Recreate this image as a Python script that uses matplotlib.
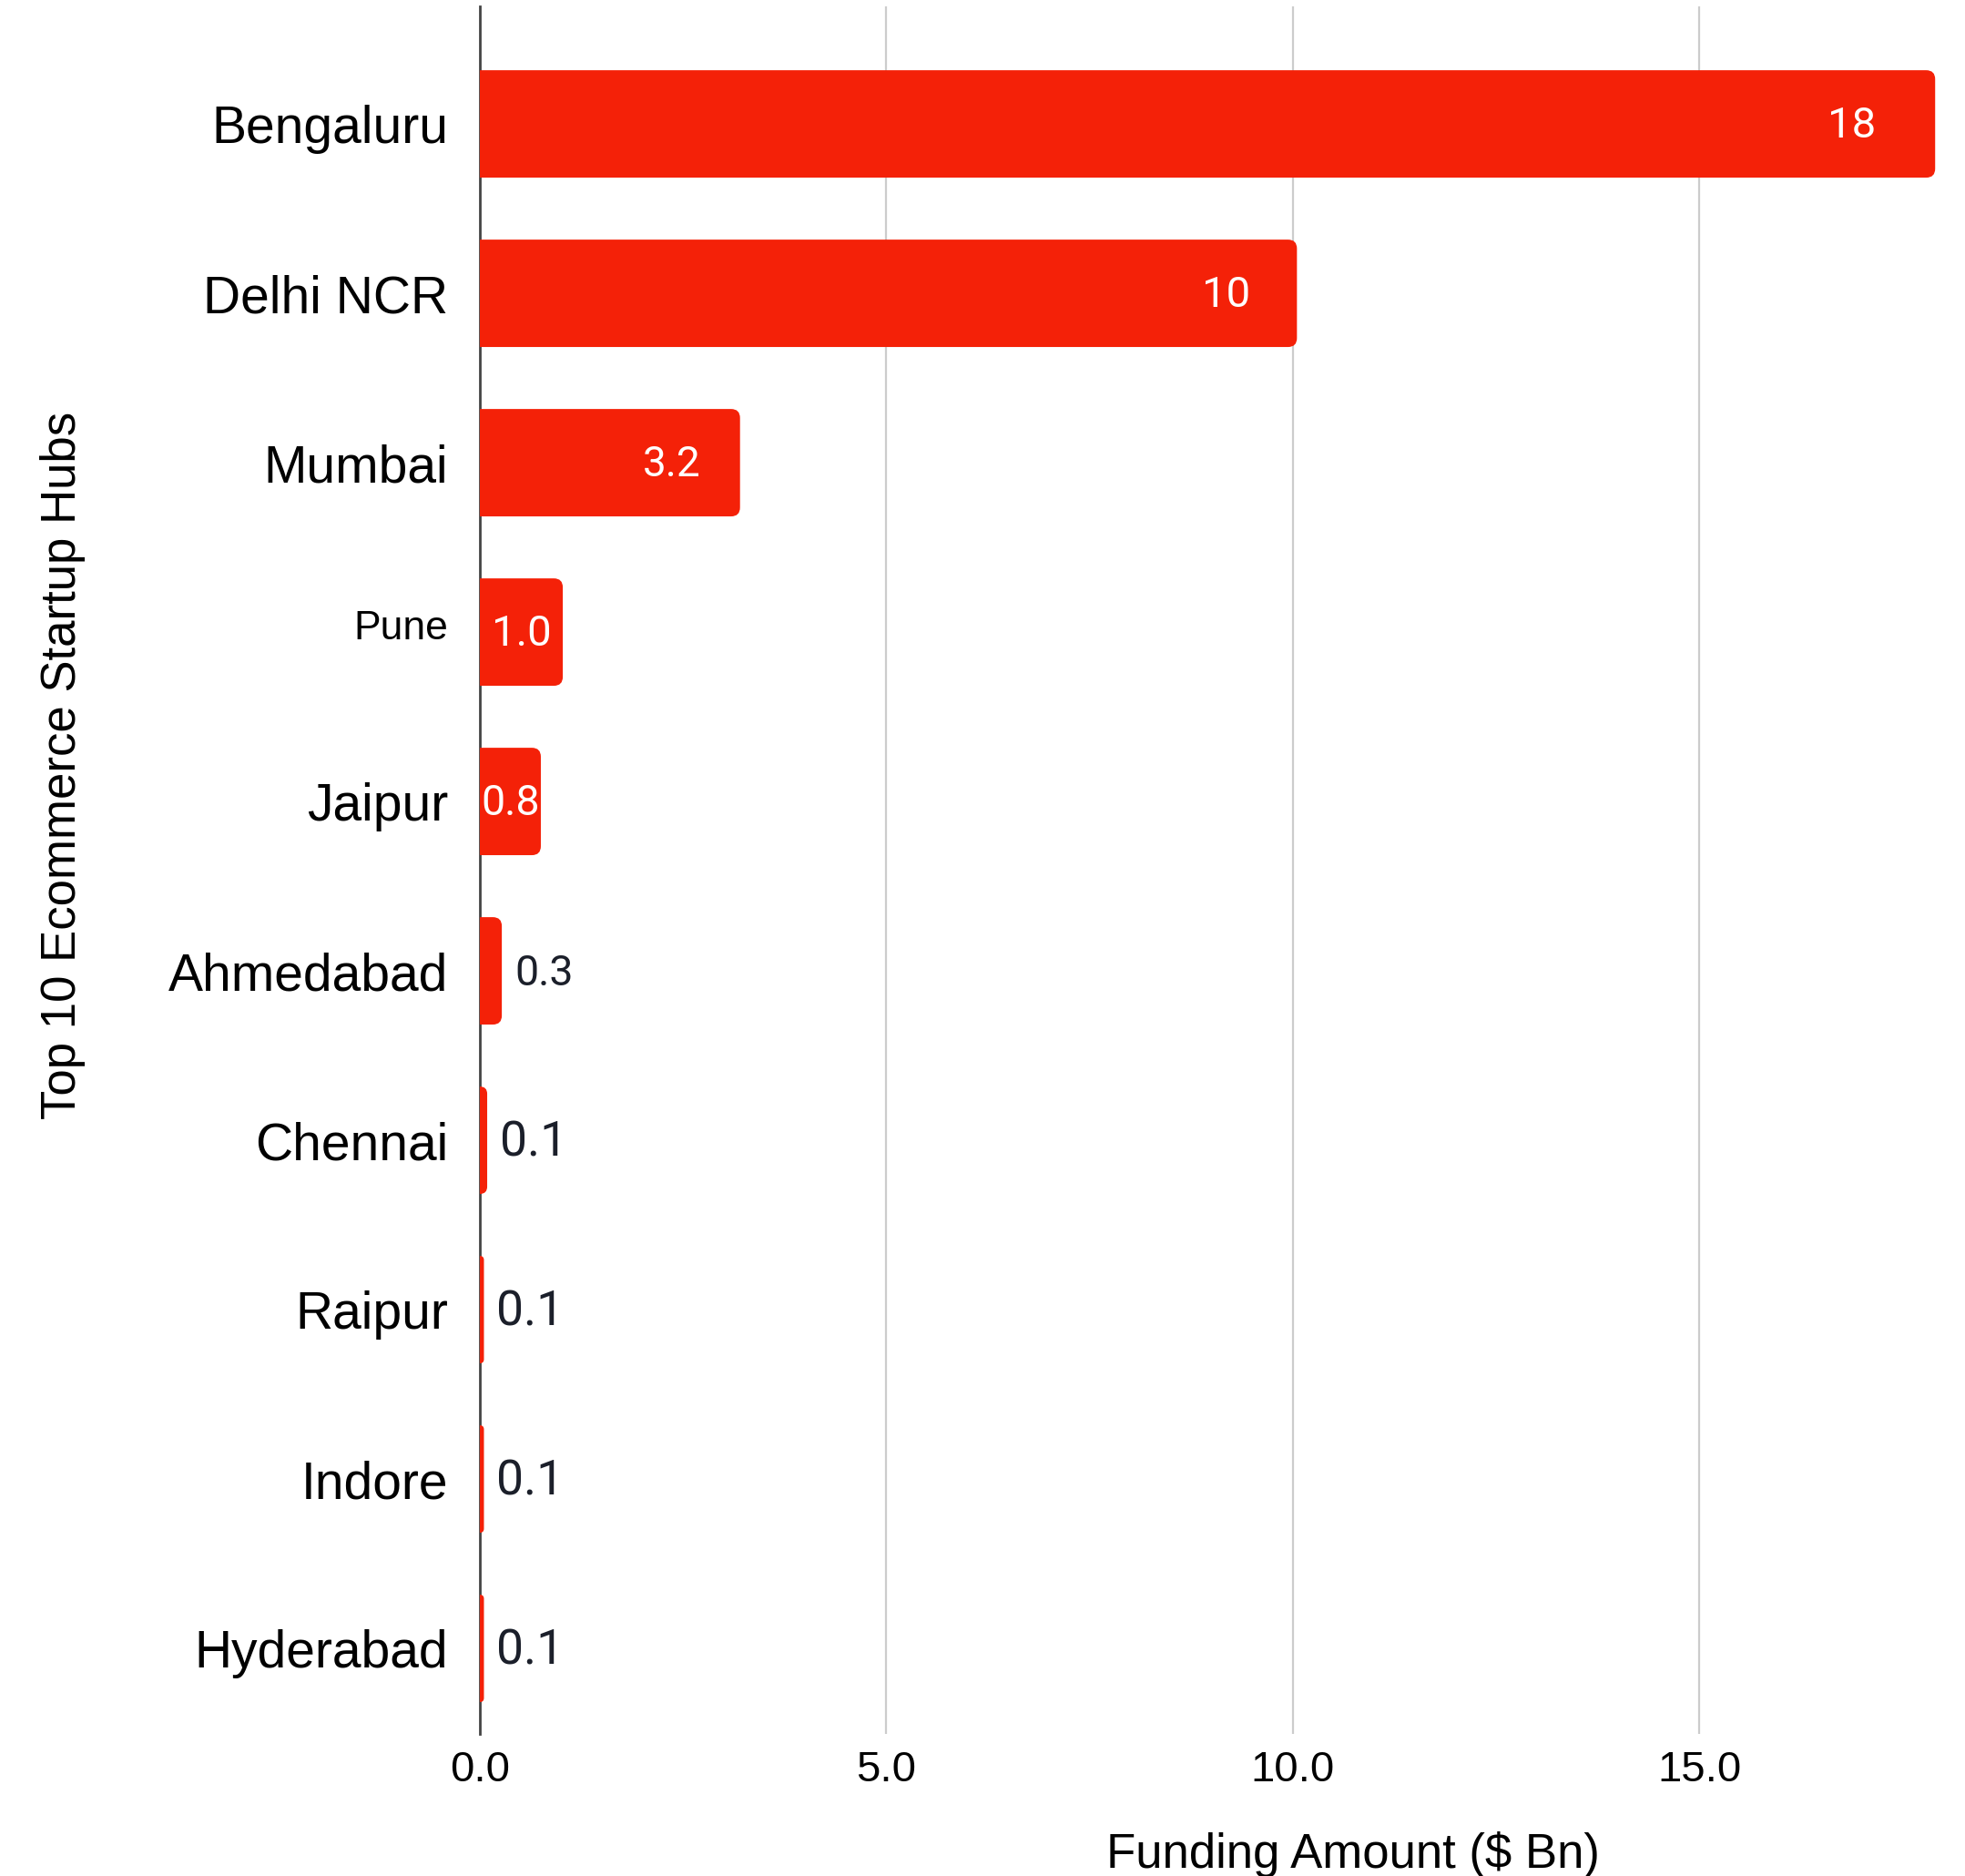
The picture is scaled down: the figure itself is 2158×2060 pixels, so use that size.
import matplotlib
matplotlib.use("Agg")
import matplotlib.pyplot as plt
from matplotlib.patches import FancyBboxPatch
from matplotlib.transforms import offset_copy, ScaledTranslation

# ---- data ----
cities = ["Bengaluru", "Delhi NCR", "Mumbai", "Pune", "Jaipur",
          "Ahmedabad", "Chennai", "Raipur", "Indore", "Hyderabad"]
funding = [17.9, 10.05, 3.2, 1.02, 0.75, 0.27, 0.09, 0.05, 0.05, 0.05]
value_labels = ["18", "10", "3.2", "1.0", "0.8", "0.3", "0.1", "0.1", "0.1", "0.1"]
x_ticks = [0.0, 5.0, 10.0, 15.0]
x_tick_labels = ["0.0", "5.0", "10.0", "15.0"]

# ---- style (label placement per bar) ----
label_mode = ["end", "end", "end", "center", "center",
              "outside", "outside", "outside", "outside", "outside"]
label_size = [34, 34, 33, 34, 33.5, 33.5, 38.5, 38.5, 38.5, 38.5]
end_pad_pts = [47, 37, 31, 0, 0, 0, 0, 0, 0, 0]

BAR_COLOR = "#F42108"
LABEL_FONT = "Liberation Sans"
VALUE_FONT = "Roboto"

W, H = 2158, 2060
fig = plt.figure(figsize=(W / 100, H / 100), dpi=100)
fig.patch.set_facecolor("white")

left_px, right_px, top_px, bottom_px = 527, 2152, 7, 1904
ax = fig.add_axes([left_px / W, 1 - bottom_px / H,
                   (right_px - left_px) / W, (bottom_px - top_px) / H])

ypos = list(range(len(cities)))
bar_h = 0.634
bars = ax.barh(ypos, funding, height=bar_h, color=BAR_COLOR, zorder=3)

ax.set_xlim(0, 18.2)
ax.set_ylim(9.505, -0.694)

# rounded right ends (replace rectangles by rounded patches, same data coords)
R = 0.11
aspect = 0.48
for rect in bars:
    x, y = rect.get_x(), rect.get_y()
    w, h = rect.get_width(), rect.get_height()
    r = min(R, w)
    p = FancyBboxPatch((x - r, y), w + r, h,
                       boxstyle=f"round,pad=0,rounding_size={r}",
                       mutation_aspect=aspect,
                       facecolor=BAR_COLOR, edgecolor="none", zorder=3,
                       clip_on=True)
    ax.add_patch(p)
    rect.set_visible(False)

# grid & spines
ax.set_xticks(x_ticks)
ax.set_xticklabels(x_tick_labels)
ax.xaxis.grid(True, color="#cccccc", linewidth=1.6, zorder=0)
ax.set_axisbelow(True)
for s in ["top", "right", "bottom"]:
    ax.spines[s].set_visible(False)
ax.spines["left"].set_color("#444444")
ax.spines["left"].set_linewidth(2.0)
ax.spines["left"].set_zorder(2)

ax.set_yticks(ypos)
ax.set_yticklabels(cities)
ax.tick_params(axis="y", length=0, pad=25, labelsize=41, labelcolor="#000000")
ax.tick_params(axis="x", length=0, pad=13, labelsize=34, labelcolor="#000000")
for t in ax.get_yticklabels():
    t.set_fontfamily(LABEL_FONT)
    if t.get_text() == "Pune":
        t.set_fontsize(32)
        t.set_transform(t.get_transform() + ScaledTranslation(0, 6 / 72, fig.dpi_scale_trans))
for t in ax.get_xticklabels():
    t.set_fontfamily(LABEL_FONT)

ax.set_xlabel("Funding Amount ($ Bn)", fontsize=38, family=LABEL_FONT, color="#000000")
ax.xaxis.set_label_coords(0.590, -0.0775)
ax.xaxis.label.set_va("baseline")
ax.set_ylabel("Top 10 Ecommerce Startup Hubs", fontsize=38, family=LABEL_FONT, color="#000000")
ax.yaxis.set_label_coords(-0.2818, 0.5604)
ax.yaxis.label.set_va("center")
ax.yaxis.label.set_ha("center")

# value labels
for yi, (v, lab, mode, fs, pad) in enumerate(zip(funding, value_labels, label_mode,
                                                 label_size, end_pad_pts)):
    if mode == "end":
        tr = offset_copy(ax.transData, fig=fig, x=-pad, y=-1.5, units="points")
        ax.text(v, yi, lab, transform=tr, ha="right", va="center",
                fontsize=fs, family=VALUE_FONT, color="white", zorder=5)
    elif mode == "center":
        tr = offset_copy(ax.transData, fig=fig, x=0, y=-1.5, units="points")
        ax.text(v / 2, yi, lab, transform=tr, ha="center", va="center",
                fontsize=fs, family=VALUE_FONT, color="white", zorder=5)
    else:
        tr = offset_copy(ax.transData, fig=fig, x=10, y=-2, units="points")
        ax.text(v, yi, lab, transform=tr, ha="left", va="center",
                fontsize=fs, family=VALUE_FONT, color="#1b1f2a", zorder=5)

fig.savefig("out.png", dpi=100, facecolor="white")
